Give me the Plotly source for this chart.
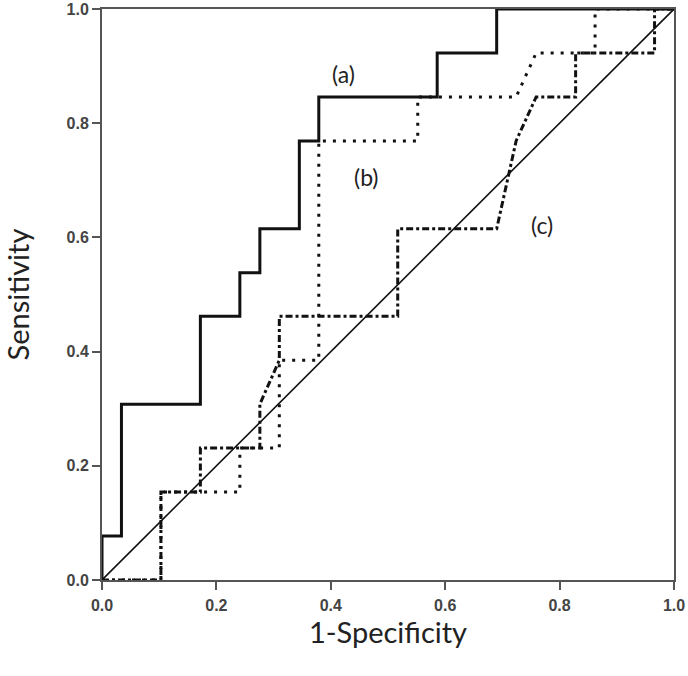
import plotly.graph_objects as go

# ROC curve (a) - solid
fpr_a = [0, 0, 0.034, 0.034, 0.172, 0.172, 0.241, 0.241, 0.276, 0.276, 0.345, 0.345,
         0.379, 0.379, 0.586, 0.586, 0.690, 0.690, 1.0]
tpr_a = [0, 0.077, 0.077, 0.308, 0.308, 0.462, 0.462, 0.538, 0.538, 0.615, 0.615, 0.769,
         0.769, 0.846, 0.846, 0.923, 0.923, 1.0, 1.0]

# ROC curve (b) - dotted
fpr_b = [0, 0.103, 0.103, 0.241, 0.241, 0.310, 0.310, 0.379, 0.379, 0.552, 0.552,
         0.724, 0.759, 0.862, 0.862, 1.0]
tpr_b = [0, 0, 0.154, 0.154, 0.231, 0.231, 0.385, 0.385, 0.769, 0.769, 0.846,
         0.846, 0.923, 0.923, 1.0, 1.0]

# ROC curve (c) - dash-dot
fpr_c = [0, 0.103, 0.103, 0.172, 0.172, 0.276, 0.276, 0.310, 0.310, 0.517, 0.517,
         0.690, 0.724, 0.759, 0.828, 0.828, 0.966, 0.966, 1.0]
tpr_c = [0, 0, 0.154, 0.154, 0.231, 0.231, 0.308, 0.385, 0.462, 0.462, 0.615,
         0.615, 0.769, 0.846, 0.846, 0.923, 0.923, 1.0, 1.0]

# reference diagonal
ref_x = [0, 1]
ref_y = [0, 1]

tick_vals = [0.0, 0.2, 0.4, 0.6, 0.8, 1.0]
tick_text = ["0.0", "0.2", "0.4", "0.6", "0.8", "1.0"]

labels = ["(a)", "(b)", "(c)"]
label_x = [0.423, 0.463, 0.769]
label_y = [0.887, 0.706, 0.622]

fig = go.Figure()
fig.add_trace(go.Scatter(x=ref_x, y=ref_y, mode="lines",
                         line=dict(color="#111111", width=1.6), showlegend=False))
fig.add_trace(go.Scatter(x=fpr_c, y=tpr_c, mode="lines",
                         line=dict(color="#111111", width=3, dash="7px,3px,3px,3px"),
                         showlegend=False))
fig.add_trace(go.Scatter(x=fpr_b, y=tpr_b, mode="lines",
                         line=dict(color="#111111", width=3, dash="3px,7px"),
                         showlegend=False))
fig.add_trace(go.Scatter(x=fpr_a, y=tpr_a, mode="lines",
                         line=dict(color="#111111", width=3), showlegend=False))

for t, x, y in zip(labels, label_x, label_y):
    fig.add_annotation(x=x, y=y, text=t, showarrow=False,
                       font=dict(family="Lato", size=23, color="#222222"))

axis_common = dict(range=[0, 1], tickvals=tick_vals, ticktext=tick_text,
                   showgrid=False, zeroline=False, showline=True, mirror=True,
                   linecolor="#555555", linewidth=2, ticks="outside", ticklen=8,
                   tickwidth=2, tickcolor="#555555", automargin=False,
                   ticklabeloverflow="allow",
                   tickfont=dict(family="Liberation Sans", size=16, color="#444444",
                                 weight=700))

fig.update_xaxes(**axis_common, ticklabelstandoff=2,
                 title=dict(text="1-Specificity", standoff=1,
                            font=dict(family="Lato", size=29, color="#222222")))
fig.update_yaxes(**axis_common,
                 title=dict(text="Sensitivity", standoff=42,
                            font=dict(family="Lato", size=29, color="#222222")))

fig.update_layout(width=688, height=676,
                  margin=dict(l=102, r=14, t=9, b=96),
                  plot_bgcolor="white", paper_bgcolor="white")

fig.write_html("out.html", config={"displayModeBar": False},
               post_script="document.body.style.margin='0';document.body.style.padding='0';")
